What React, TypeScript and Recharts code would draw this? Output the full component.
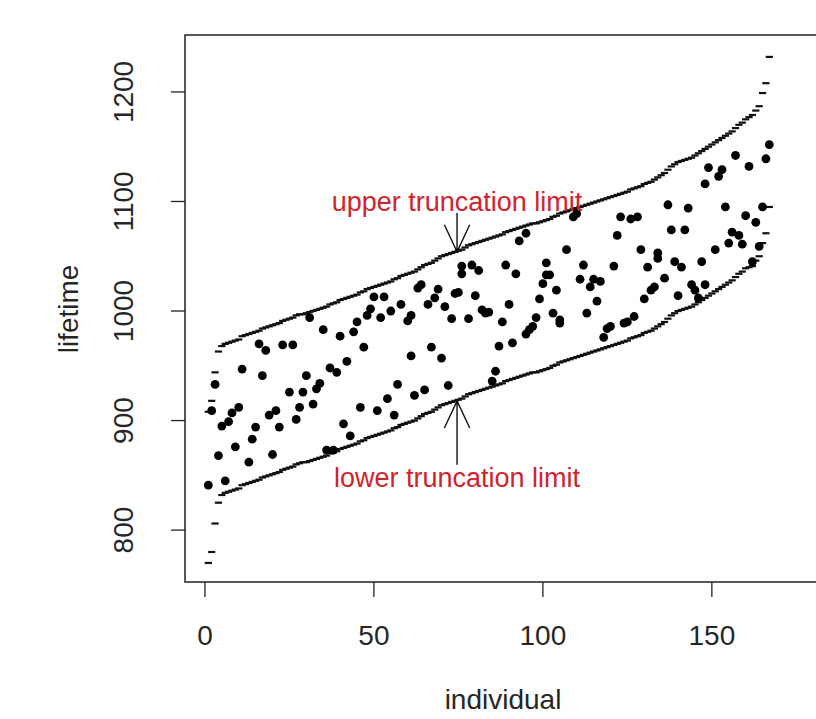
import React from 'react';
import { ScatterChart, Scatter, XAxis, YAxis, ReferenceArea, ReferenceLine, ReferenceDot } from 'recharts';

// truncation limits per individual (1..167)
const lowerLimit = [
  770, 780, 806, 825, 832, 834, 835, 836, 837, 838,
  841, 842, 843, 844, 845, 846, 848, 849, 850, 851,
  852, 853, 855, 856, 857, 858, 860, 861, 862, 862,
  863, 864, 865, 866, 867, 868, 870, 871, 872, 874,
  875, 876, 877, 878, 879, 881, 882, 884, 885, 886,
  887, 888, 889, 890, 891, 893, 894, 896, 897, 898,
  899, 900, 902, 904, 906, 907, 908, 910, 912, 914,
  915, 916, 917, 918, 919, 920, 922, 924, 925, 926,
  927, 928, 929, 930, 931, 932, 933, 934, 936, 937,
  938, 939, 940, 941, 942, 943, 944, 944, 945, 946,
  947, 948, 950, 951, 953, 954, 955, 956, 957, 958,
  959, 960, 961, 962, 963, 964, 965, 966, 967, 968,
  969, 970, 971, 972, 973, 975, 976, 977, 978, 980,
  981, 982, 984, 986, 988, 990, 993, 996, 998, 1000,
  1001, 1002, 1003, 1004, 1006, 1008, 1010, 1012, 1014, 1016,
  1018, 1020, 1022, 1024, 1026, 1028, 1031, 1034, 1036, 1039,
  1040, 1041, 1046, 1050, 1062, 1071, 1095,
];

const upperLimit = [
  908, 918, 944, 963, 968, 970, 971, 972, 973, 974,
  977, 978, 979, 980, 981, 982, 984, 985, 986, 987,
  988, 989, 991, 992, 993, 994, 996, 997, 997, 998,
  999, 1000, 1001, 1002, 1003, 1004, 1006, 1007, 1008, 1010,
  1011, 1012, 1013, 1014, 1015, 1017, 1018, 1020, 1021, 1022,
  1023, 1024, 1025, 1026, 1027, 1029, 1030, 1032, 1033, 1034,
  1035, 1036, 1038, 1040, 1042, 1043, 1044, 1046, 1048, 1050,
  1051, 1052, 1053, 1054, 1055, 1056, 1058, 1060, 1061, 1062,
  1063, 1064, 1065, 1066, 1067, 1068, 1069, 1070, 1072, 1073,
  1074, 1075, 1076, 1077, 1078, 1079, 1080, 1080, 1081, 1082,
  1083, 1084, 1086, 1087, 1089, 1090, 1091, 1092, 1093, 1094,
  1095, 1096, 1097, 1098, 1099, 1100, 1101, 1102, 1103, 1104,
  1105, 1106, 1107, 1108, 1109, 1111, 1112, 1113, 1114, 1116,
  1117, 1118, 1120, 1122, 1124, 1126, 1129, 1132, 1134, 1136,
  1137, 1138, 1139, 1140, 1142, 1144, 1146, 1148, 1150, 1152,
  1154, 1156, 1158, 1160, 1162, 1164, 1167, 1170, 1172, 1175,
  1177, 1179, 1183, 1187, 1199, 1208, 1232,
];

// observed lifetimes
const individual = [
  1, 2, 3, 4, 5, 6, 7, 8, 9, 10, 11, 13, 14, 15, 16, 17, 18, 19, 20, 21,
  22, 23, 25, 26, 27, 28, 29, 30,
  31, 35, 40, 44, 45, 48, 49, 50, 53, 52, 55, 58, 60, 61, 63, 66, 47, 42,
  37, 39, 34, 33, 32, 61, 57, 65, 62, 54, 46, 51, 56, 41, 43, 36, 38,
  95, 93, 76, 79, 81, 76, 89, 92, 101, 101, 100, 64, 69, 68, 71, 74, 75,
  80, 90, 99, 82, 83, 84, 73, 78, 88, 98, 97, 96, 95, 91, 87, 67, 70, 86,
  85, 72,
  109, 110, 123, 126, 128, 122, 107, 129, 134, 134, 112, 121, 131, 102,
  111, 115, 117, 114, 136, 133, 132, 130, 104, 116, 103, 105, 105, 113,
  127, 125, 124, 120, 119, 118,
  138, 142, 156, 158, 159, 155, 164, 151, 139, 141, 147, 162, 144, 145,
  146, 148, 140, 167, 166, 157, 161, 149, 153, 152, 148, 137, 143, 154,
  165, 160, 163,
];

const lifetime = [
  841, 909, 933, 868, 895, 845, 899, 907, 876, 912, 947, 862, 883, 894, 970, 941, 964, 905, 869, 909,
  894, 969, 926, 969, 901, 912, 926, 941,
  994, 983, 977, 981, 990, 996, 1002, 1013, 1013, 994, 1000, 1006, 991, 996, 1021, 1006, 967, 954,
  948, 944, 934, 929, 915, 959, 933, 928, 923, 920, 912, 909, 905, 897, 886, 873, 873,
  1071, 1064, 1041, 1042, 1037, 1034, 1042, 1034, 1044, 1033, 1025, 1024, 1020, 1012, 1004, 1016, 1017,
  1014, 1006, 1011, 1001, 998, 999, 993, 993, 990, 994, 986, 983, 979, 971, 968, 967, 957, 945,
  936, 932,
  1086, 1089, 1086, 1084, 1086, 1069, 1056, 1056, 1053, 1048, 1042, 1041, 1040, 1033,
  1029, 1029, 1027, 1022, 1030, 1022, 1019, 1011, 1019, 1009, 998, 992, 989, 998,
  995, 990, 989, 986, 984, 976,
  1074, 1074, 1072, 1069, 1061, 1062, 1059, 1056, 1045, 1040, 1045, 1045, 1024, 1019,
  1012, 1024, 1014, 1152, 1139, 1142, 1132, 1131, 1129, 1123, 1116, 1097, 1094, 1095,
  1095, 1087, 1081,
];

const xTicks = [0, 50, 100, 150];
const yTicks = [800, 900, 1000, 1100, 1200];
const xDomain: [number, number] = [-5.9, 182];
const yDomain: [number, number] = [752.6, 1252];

const lowerData = lowerLimit.map((v, i) => ({ x: i + 1, y: v }));
const upperData = upperLimit.map((v, i) => ({ x: i + 1, y: v }));
const pointData = individual.map((x, i) => ({ x, y: lifetime[i] }));

const FONT = "'Liberation Sans', Arial, sans-serif";
const TEXT = '#262626';
const RED = '#d0232b';

const Dash = (props: any) => {
  const { cx, cy } = props;
  return <line x1={cx - 3.6} x2={cx + 3.6} y1={cy} y2={cy} stroke="#111" strokeWidth={2.2} />;
};

const Dot = (props: any) => {
  const { cx, cy } = props;
  return <circle cx={cx} cy={cy} r={4.4} fill="#000" />;
};

const Arrow = (props: any) => {
  const { x1, y1, x2, y2 } = props;
  const len = Math.hypot(x2 - x1, y2 - y1) || 1;
  const dx = (x2 - x1) / len;
  const dy = (y2 - y1) / len;
  const head = 30;
  const a = (25 * Math.PI) / 180;
  const h1x = x2 - head * (dx * Math.cos(a) - dy * Math.sin(a));
  const h1y = y2 - head * (dx * Math.sin(a) + dy * Math.cos(a));
  const h2x = x2 - head * (dx * Math.cos(-a) - dy * Math.sin(-a));
  const h2y = y2 - head * (dx * Math.sin(-a) + dy * Math.cos(-a));
  return (
    <path
      d={`M${x1},${y1}L${x2},${y2}M${h1x},${h1y}L${x2},${y2}L${h2x},${h2y}`}
      stroke="#111"
      strokeWidth={1.4}
      fill="none"
    />
  );
};

const note = (label: string) => (props: any) => (
  <text x={props.cx} y={props.cy} textAnchor="middle" fontSize={27} fill={RED} fontFamily={FONT}>
    {label}
  </text>
);

const XTick = (props: any) => {
  const { x, payload } = props;
  return (
    <text x={x} y={635} textAnchor="middle" dominantBaseline="central" fontSize={28} fill={TEXT} fontFamily={FONT}>
      {payload.value}
    </text>
  );
};

const YTick = (props: any) => {
  const { y, payload } = props;
  return (
    <text
      transform={`translate(123, ${y}) rotate(-90)`}
      textAnchor="middle"
      dominantBaseline="central"
      fontSize={28}
      fill={TEXT}
      fontFamily={FONT}
    >
      {payload.value}
    </text>
  );
};

export default function App() {
  return (
    <div style={{ position: 'fixed', left: 0, top: 0, width: 816, height: 719, overflow: 'hidden', background: '#fff' }}>
      <ScatterChart width={830} height={719} margin={{ top: 35, right: 10, bottom: 57, left: 105 }}>
        <XAxis
          type="number"
          dataKey="x"
          domain={xDomain}
          ticks={xTicks}
          allowDataOverflow
          axisLine={false}
          tickLine={{ stroke: '#222', strokeWidth: 1.3 }}
          tickSize={15}
          height={80}
          tick={<XTick />}
        />
        <YAxis
          type="number"
          dataKey="y"
          domain={yDomain}
          ticks={yTicks}
          allowDataOverflow
          axisLine={false}
          tickLine={{ stroke: '#222', strokeWidth: 1.3 }}
          tickSize={14}
          width={80}
          tick={<YTick />}
        />
        <ReferenceArea
          x1={xDomain[0]}
          x2={xDomain[1]}
          y1={yDomain[0]}
          y2={yDomain[1]}
          fill="none"
          fillOpacity={0}
          stroke="#222"
          strokeWidth={1.5}
          ifOverflow="visible"
        />
        <Scatter data={lowerData} shape={Dash} isAnimationActive={false} />
        <Scatter data={upperData} shape={Dash} isAnimationActive={false} />
        <Scatter data={pointData} shape={Dot} isAnimationActive={false} />
        <ReferenceLine segment={[{ x: 74.6, y: 1089.5 }, { x: 74.6, y: 1054 }]} shape={Arrow} ifOverflow="visible" />
        <ReferenceLine segment={[{ x: 74.6, y: 859.6 }, { x: 74.6, y: 918 }]} shape={Arrow} ifOverflow="visible" />
        <ReferenceDot x={74.6} y={1091.3} r={0} shape={note('upper truncation limit')} ifOverflow="visible" />
        <ReferenceDot x={74.6} y={839.3} r={0} shape={note('lower truncation limit')} ifOverflow="visible" />
      </ScatterChart>
      <svg width={816} height={719} style={{ position: 'absolute', left: 0, top: 0, pointerEvents: 'none' }}>
        <text x={503} y={699} textAnchor="middle" dominantBaseline="central" fontSize={28} fill={TEXT} fontFamily={FONT}>
          individual
        </text>
        <text
          transform="translate(68, 309) rotate(-90)"
          textAnchor="middle"
          dominantBaseline="central"
          fontSize={28}
          fill={TEXT}
          fontFamily={FONT}
        >
          lifetime
        </text>
      </svg>
    </div>
  );
}
